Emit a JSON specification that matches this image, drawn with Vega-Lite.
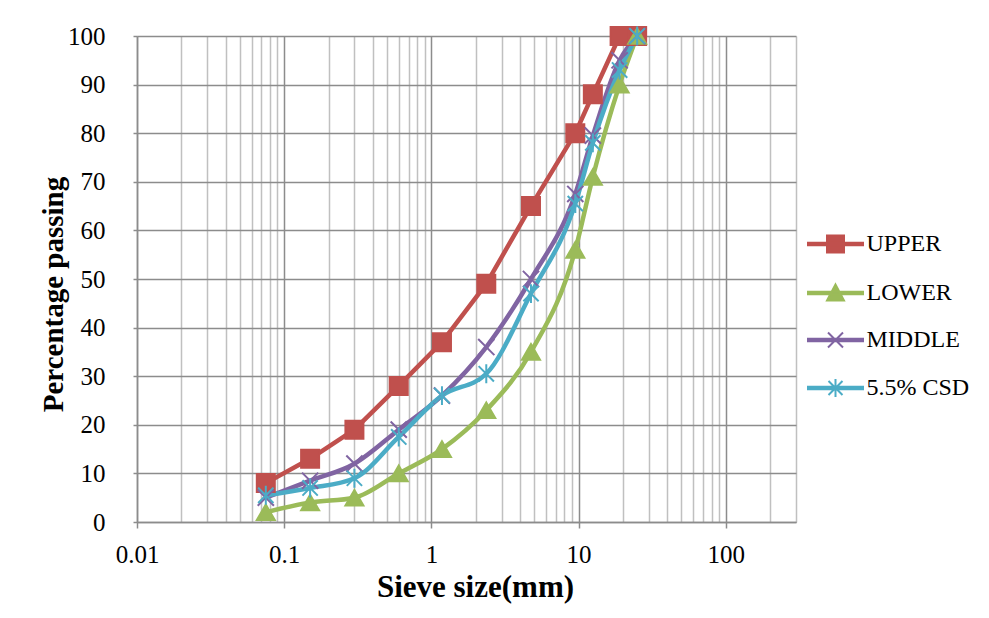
{
  "$schema": "https://vega.github.io/schema/vega-lite/v6.json",
  "width": 659,
  "height": 486,
  "autosize": {"type": "none"},
  "padding": {"left": 137, "top": 36, "right": 193, "bottom": 96},
  "background": "white",
  "config": {"font": "Liberation Serif", "view": {"stroke": null}},
  "data": {
    "values": [
      {"size": 0.075, "pct": 8, "series": "UPPER"},
      {"size": 0.15, "pct": 13, "series": "UPPER"},
      {"size": 0.3, "pct": 19, "series": "UPPER"},
      {"size": 0.6, "pct": 28, "series": "UPPER"},
      {"size": 1.18, "pct": 37, "series": "UPPER"},
      {"size": 2.36, "pct": 49, "series": "UPPER"},
      {"size": 4.75, "pct": 65, "series": "UPPER"},
      {"size": 9.5, "pct": 80, "series": "UPPER"},
      {"size": 12.5, "pct": 88, "series": "UPPER"},
      {"size": 19, "pct": 100, "series": "UPPER"},
      {"size": 25, "pct": 100, "series": "UPPER"},
      {"size": 0.075, "pct": 2, "series": "LOWER"},
      {"size": 0.15, "pct": 4, "series": "LOWER"},
      {"size": 0.3, "pct": 5, "series": "LOWER"},
      {"size": 0.6, "pct": 10, "series": "LOWER"},
      {"size": 1.18, "pct": 15, "series": "LOWER"},
      {"size": 2.36, "pct": 23, "series": "LOWER"},
      {"size": 4.75, "pct": 35, "series": "LOWER"},
      {"size": 9.5, "pct": 56, "series": "LOWER"},
      {"size": 12.5, "pct": 71, "series": "LOWER"},
      {"size": 19, "pct": 90, "series": "LOWER"},
      {"size": 25, "pct": 100, "series": "LOWER"},
      {"size": 0.075, "pct": 5, "series": "MIDDLE"},
      {"size": 0.15, "pct": 8.5, "series": "MIDDLE"},
      {"size": 0.3, "pct": 12, "series": "MIDDLE"},
      {"size": 0.6, "pct": 19, "series": "MIDDLE"},
      {"size": 1.18, "pct": 26, "series": "MIDDLE"},
      {"size": 2.36, "pct": 36, "series": "MIDDLE"},
      {"size": 4.75, "pct": 50, "series": "MIDDLE"},
      {"size": 9.5, "pct": 67.5, "series": "MIDDLE"},
      {"size": 12.5, "pct": 79.5, "series": "MIDDLE"},
      {"size": 19, "pct": 95, "series": "MIDDLE"},
      {"size": 25, "pct": 100, "series": "MIDDLE"},
      {"size": 0.075, "pct": 5.5, "series": "5.5% CSD"},
      {"size": 0.15, "pct": 7, "series": "5.5% CSD"},
      {"size": 0.3, "pct": 9, "series": "5.5% CSD"},
      {"size": 0.6, "pct": 17.5, "series": "5.5% CSD"},
      {"size": 1.18, "pct": 26, "series": "5.5% CSD"},
      {"size": 2.36, "pct": 30.5, "series": "5.5% CSD"},
      {"size": 4.75, "pct": 47, "series": "5.5% CSD"},
      {"size": 9.5, "pct": 65.5, "series": "5.5% CSD"},
      {"size": 12.5, "pct": 78, "series": "5.5% CSD"},
      {"size": 19, "pct": 93, "series": "5.5% CSD"},
      {"size": 25, "pct": 100, "series": "5.5% CSD"}
    ]
  },
  "encoding": {
    "x": {
      "field": "size",
      "type": "quantitative",
      "scale": {"type": "log", "domain": [0.01, 300], "nice": false},
      "axis": {
        "title": "Sieve size(mm)",
        "titleFont": "Liberation Serif",
        "titleFontSize": 31,
        "titleFontWeight": "bold",
        "titleColor": "black",
        "titleBaseline": "alphabetic",
        "titleX": 338,
        "titleY": 74,
        "values": [0.01, 0.02, 0.03, 0.04, 0.05, 0.06, 0.07, 0.08, 0.09, 0.1, 0.2, 0.3, 0.4, 0.5, 0.6, 0.7, 0.8, 0.9, 1, 2, 3, 4, 5, 6, 7, 8, 9, 10, 20, 30, 40, 50, 60, 70, 80, 90, 100, 200, 300],
        "labelExpr": "abs(log(datum.value)/LN10 - round(log(datum.value)/LN10)) < 0.001 ? format(datum.value, '~g') : ''",
        "labelOverlap": false,
        "labelBound": false,
        "labelFlush": false,
        "labelFont": "Liberation Serif",
        "labelFontSize": 25,
        "labelColor": "black",
        "labelBaseline": "alphabetic",
        "labelPadding": 34,
        "grid": true,
        "gridColor": {"condition": {"test": "abs(log(datum.value)/LN10 - round(log(datum.value)/LN10)) < 0.001", "value": "#8C8C8C"}, "value": "#C0C0C0"},
        "gridWidth": 1.5,
        "ticks": true,
        "tickSize": 6,
        "tickWidth": 1.5,
        "tickColor": "#8C8C8C",
        "tickOpacity": {"condition": {"test": "abs(log(datum.value)/LN10 - round(log(datum.value)/LN10)) < 0.001", "value": 1}, "value": 0},
        "domainColor": "#8C8C8C",
        "domainWidth": 1.5
      }
    },
    "y": {
      "field": "pct",
      "type": "quantitative",
      "scale": {"domain": [0, 100], "nice": false},
      "axis": {
        "title": "Percentage passing",
        "titleFont": "Liberation Serif",
        "titleFontSize": 29,
        "titleFontWeight": "bold",
        "titleColor": "black",
        "titleX": -69,
        "titleY": 258,
        "values": [0, 10, 20, 30, 40, 50, 60, 70, 80, 90, 100],
        "labelFont": "Liberation Serif",
        "labelFontSize": 25,
        "labelColor": "black",
        "labelPadding": 28,
        "labelBound": false,
        "labelFlush": false,
        "grid": true,
        "gridColor": "#8C8C8C",
        "gridWidth": 1.5,
        "tickSize": 4,
        "tickWidth": 1.5,
        "tickColor": "#8C8C8C",
        "domainColor": "#8C8C8C",
        "domainWidth": 1.5
      }
    }
  },
  "layer": [
    {
      "transform": [{"filter": "datum.series === 'UPPER'"}],
      "mark": {"type": "line", "color": "#C0504D", "strokeWidth": 4.5, "strokeCap": "round", "strokeJoin": "round"},
      "encoding": {}
    },
    {
      "transform": [{"filter": "datum.series === 'LOWER'"}],
      "mark": {"type": "line", "color": "#9BBB59", "strokeWidth": 4.5, "strokeCap": "round", "interpolate": "monotone"},
      "encoding": {}
    },
    {
      "transform": [{"filter": "datum.series === 'MIDDLE'"}],
      "mark": {"type": "line", "color": "#8064A2", "strokeWidth": 4.5, "strokeCap": "round", "interpolate": "monotone"},
      "encoding": {}
    },
    {
      "transform": [{"filter": "datum.series === '5.5% CSD'"}],
      "mark": {"type": "line", "color": "#4BACC6", "strokeWidth": 4.5, "strokeCap": "round", "interpolate": "monotone"},
      "encoding": {}
    },
    {
      "mark": {"type": "point", "filled": true, "size": 324, "strokeWidth": 2, "opacity": 1},
      "encoding": {
        "fill": {"field": "series", "type": "nominal", "scale": {"domain": ["UPPER", "LOWER", "MIDDLE", "5.5% CSD"], "range": ["#C0504D", "#9BBB59", "#8064A2", "#4BACC6"]}, "legend": null},
        "stroke": {"field": "series", "type": "nominal", "scale": {"domain": ["UPPER", "LOWER", "MIDDLE", "5.5% CSD"], "range": ["#C0504D", "#9BBB59", "#8064A2", "#4BACC6"]}, "legend": null},
        "shape": {"field": "series", "type": "nominal", "scale": {"domain": ["UPPER", "LOWER", "MIDDLE", "5.5% CSD"], "range": ["square", "triangle-up", "M-0.9,-0.9L0.9,0.9M-0.9,0.9L0.9,-0.9", "M-0.85,-0.85L0.85,0.85M-0.85,0.85L0.85,-0.85M0,-1.05L0,1.05"]}, "legend": null}
      }
    },
    {
      "transform": [{"filter": "false"}],
      "mark": {"type": "point", "filled": true, "size": 400, "strokeWidth": 2, "opacity": 1},
      "encoding": {
        "fill": {"field": "series", "type": "nominal", "scale": {"domain": ["UPPER", "LOWER", "MIDDLE", "5.5% CSD"], "range": ["#C0504D", "#9BBB59", "#8064A2", "#4BACC6"]}, "legend": {"title": null, "orient": "none", "legendX": 670, "legendY": 196, "padding": 0, "symbolSize": 400, "symbolStrokeWidth": 2, "symbolOffset": 16.5, "labelOffset": 19, "rowPadding": 23, "labelFont": "Liberation Serif", "labelFontSize": 24, "labelColor": "black", "symbolOpacity": 1}},
        "stroke": {"field": "series", "type": "nominal", "scale": {"domain": ["UPPER", "LOWER", "MIDDLE", "5.5% CSD"], "range": ["#C0504D", "#9BBB59", "#8064A2", "#4BACC6"]}, "legend": {"title": null, "orient": "none", "legendX": 670, "legendY": 196, "padding": 0, "symbolSize": 400, "symbolStrokeWidth": 2, "symbolOffset": 16.5, "labelOffset": 19, "rowPadding": 23, "labelFont": "Liberation Serif", "labelFontSize": 24, "labelColor": "black", "symbolOpacity": 1}},
        "shape": {"field": "series", "type": "nominal", "scale": {"domain": ["UPPER", "LOWER", "MIDDLE", "5.5% CSD"], "range": ["M-2.75,-0.12H2.75V0.12H-2.75Z M-0.85,-0.85H0.85V0.85H-0.85Z", "M-2.75,-0.12H2.75V0.12H-2.75Z M0,-0.85L0.85,0.75L-0.85,0.75Z", "M-2.75,-0.12H2.75V0.12H-2.75Z M-0.75,-0.75L0.75,0.75M-0.75,0.75L0.75,-0.75", "M-2.75,-0.12H2.75V0.12H-2.75Z M-0.7,-0.7L0.7,0.7M-0.7,0.7L0.7,-0.7M0,-0.9L0,0.9"]}, "legend": {"title": null, "orient": "none", "legendX": 670, "legendY": 196, "padding": 0, "symbolSize": 400, "symbolStrokeWidth": 2, "symbolOffset": 16.5, "labelOffset": 19, "rowPadding": 23, "labelFont": "Liberation Serif", "labelFontSize": 24, "labelColor": "black", "symbolOpacity": 1}}
      }
    }
  ],
  "resolve": {"scale": {"fill": "independent", "stroke": "independent", "shape": "independent"}}
}
